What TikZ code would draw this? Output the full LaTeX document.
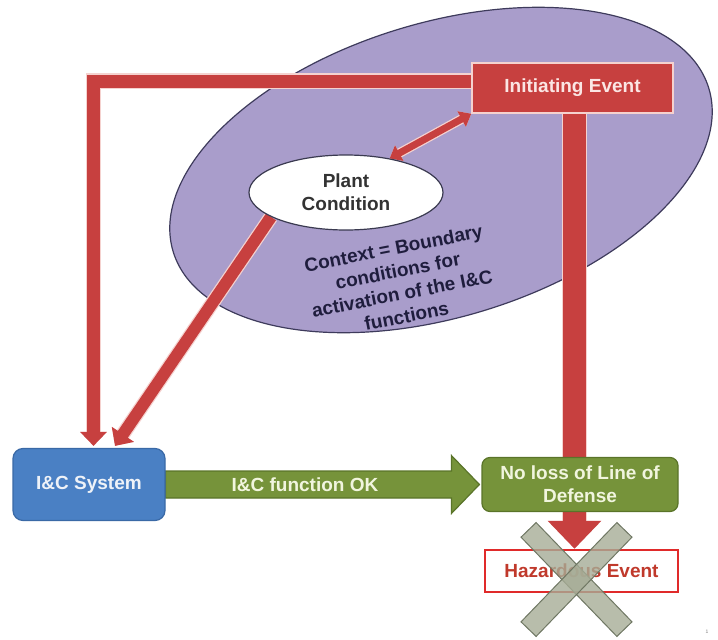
\documentclass[tikz,border=0pt]{standalone}
\usepackage{fontspec}
\setmainfont{Liberation Sans}
\usetikzlibrary{arrows.meta,calc,shapes.geometric}

\definecolor{ctxfill}{HTML}{A99DCB}
\definecolor{ctxedge}{HTML}{3E3B5C}
\definecolor{redfill}{HTML}{C7403F}
\definecolor{redline}{HTML}{F5D2CF}
\definecolor{redtext}{HTML}{FBE6E4}
\definecolor{bluefill}{HTML}{4A80C4}
\definecolor{blueedge}{HTML}{3A69A6}
\definecolor{bluetext}{HTML}{EEF2F8}
\definecolor{greenfill}{HTML}{76933A}
\definecolor{greenedge}{HTML}{5A7429}
\definecolor{greentext}{HTML}{F1F5DE}
\definecolor{hazred}{HTML}{E02A2A}
\definecolor{haztext}{HTML}{C0392B}
\definecolor{crossfill}{HTML}{A6AC96}
\definecolor{crossedge}{HTML}{6F7763}
\definecolor{navytext}{HTML}{1F1D3D}
\definecolor{plantedge}{HTML}{3A3A50}
\definecolor{planttext}{HTML}{333333}

\pgfdeclarelayer{back}
\pgfdeclarelayer{links}
\pgfsetlayers{back,links,main}

\begin{document}
\begin{tikzpicture}[x=1pt,y=-1pt,
  lbl/.style={font=\fontsize{19}{23}\selectfont\bfseries, align=center},
  redbox/.style={lbl, draw=redline, line width=1.5pt, fill=redfill, text=redtext,
    minimum width=201pt, minimum height=50pt, inner sep=0pt},
  plantnode/.style={lbl, ellipse, draw=plantedge, line width=1.2pt, fill=white,
    text=planttext, minimum width=194pt, minimum height=75pt, inner sep=0pt},
  bluebox/.style={lbl, draw=blueedge, line width=1.2pt, fill=bluefill, text=bluetext,
    rounded corners=10pt, minimum width=152pt, minimum height=72pt, inner sep=0pt},
  greenbox/.style={lbl, draw=greenedge, line width=1.2pt, fill=greenfill, text=greentext,
    rounded corners=8pt, minimum width=196pt, minimum height=54pt, inner sep=0pt},
  hazbox/.style={lbl, draw=hazred, line width=2.5pt, fill=white, text=haztext,
    minimum width=193pt, minimum height=42pt, inner sep=0pt},
  ctxshape/.style={ellipse, draw=ctxedge, line width=1.2pt, fill=ctxfill,
    minimum width=560pt, minimum height=294pt, inner sep=0pt},
  redarrow/.style={draw=redfill, line width=#1, line join=miter,
    preaction={draw=redline, line width=#1+2.5pt}},
  crossbar/.style={draw=crossedge, line width=1pt, fill=crossfill, fill opacity=0.8,
    minimum width=138pt, minimum height=21pt, inner sep=0pt},
]
\useasboundingbox (0,0) rectangle (718,640);

% context region
\begin{pgfonlayer}{back}
  \node[ctxshape, rotate=17] (ctx) at (441,170) {};
\end{pgfonlayer}

% boxes and labels
\node[redbox] (ie) at (572.5,88) {Initiating Event};
\node[plantnode] (pc) at (346,192.5) {Plant\\Condition};
\node[lbl, text=navytext, rotate=11] (ctxt) at (400,282)
  {Context = Boundary\\conditions for\\activation of the I\&C\\functions};
\node[bluebox] (ics) at (89,484.5) {I\&C System};
\node[greenbox] (nll) at (580,484.5) {No loss of Line of\\Defense};
\node[hazbox] (he) at (581.5,571) {Hazardous Event};

% red connectors
\coordinate (vtop) at ($(ie.south)+(2,0)$);
\begin{pgfonlayer}{links}
  \draw[redarrow=13pt, -{Triangle[length=14pt,width=26pt]}]
    ($(ie.west)+(0,-7)$) -| ($(ics.north)+(4.5,-2)$);
  \draw[redarrow=12pt, -{Triangle[length=14pt,width=26pt]}]
    (pc.198) -- ($(ics.north)+(26,-2)$);
  \draw[redarrow=7pt, {Triangle[length=11pt,width=17pt]}-{Triangle[length=11pt,width=17pt]}]
    (pc.38) -- (ie.south west);
  \draw[redarrow=23pt, -{Triangle[length=28pt,width=52pt]}]
    (vtop) -- (vtop |- he.north);
  % green connector
  \draw[draw=greenedge, line width=1.2pt, fill=greenfill]
    ($(ics.east)+(0,-13.5)$) -- ($(nll.west)+(-30,-13.5)$) -- ($(nll.west)+(-30,-29)$)
    -- ($(nll.west)+(-2,0)$) -- ($(nll.west)+(-30,29)$) -- ($(nll.west)+(-30,13.5)$)
    -- ($(ics.east)+(0,13.5)$) -- cycle;
\end{pgfonlayer}
\node[lbl, text=greentext] (fok) at (305,484.5) {I\&C function OK};

% cross over the hazardous event
\node[crossbar, rotate=-46] (xa) at (576.5,579.5) {};
\node[crossbar, rotate=46] (xb) at (576.5,579.5) {};

\node[font=\fontsize{5}{6}\selectfont, text=gray] (pg) at (707,632) {1};
\end{tikzpicture}
\end{document}
